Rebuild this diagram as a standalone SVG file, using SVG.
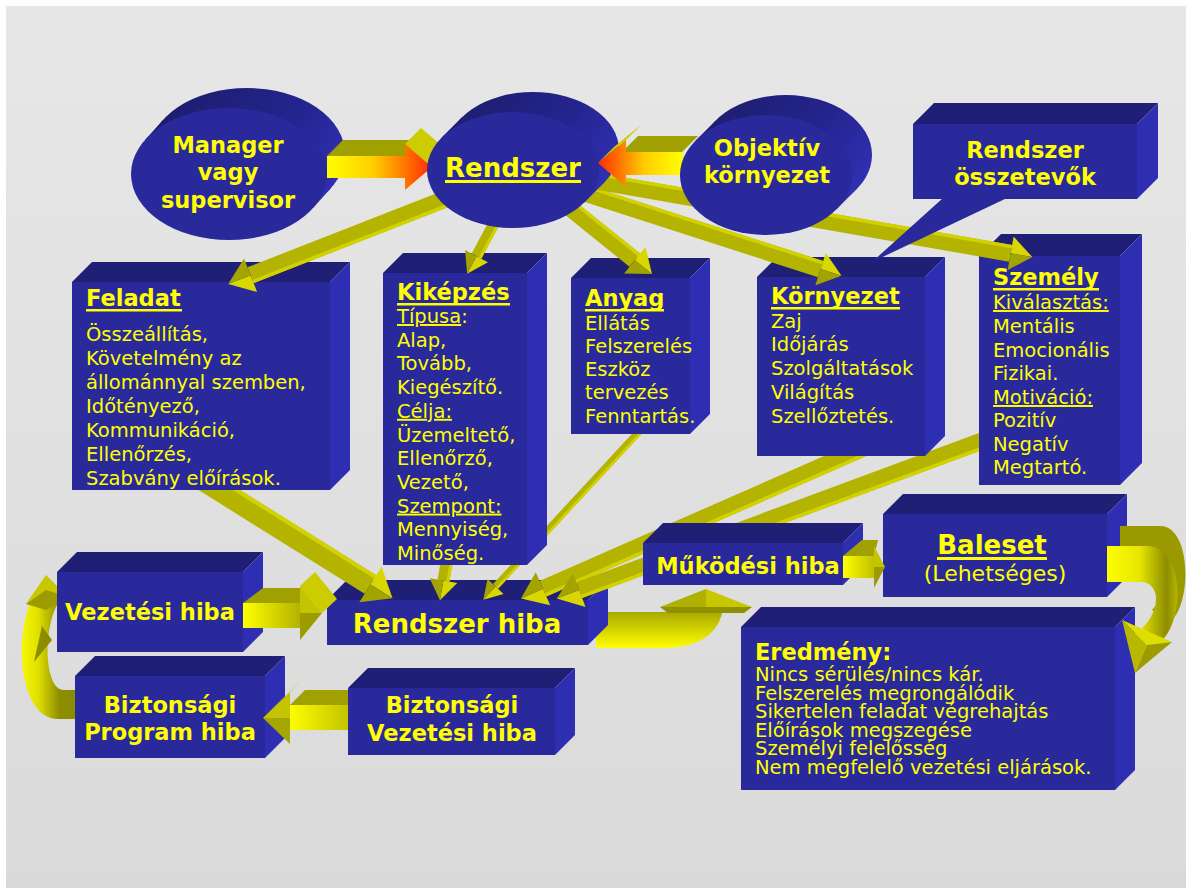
<svg xmlns="http://www.w3.org/2000/svg" width="1186" height="888" viewBox="0 0 1186 888">
  <defs>
    <style>
      .f{fill:#29299b}
      .t{fill:#1f1f75}
      .s{fill:#2e2eb2}
      .b{font-family:"DejaVu Sans",Verdana,sans-serif;font-weight:bold;font-size:22.5px;fill:#ffff00}
      .bc{font-family:"DejaVu Sans",Verdana,sans-serif;font-weight:bold;font-size:22.5px;fill:#ffff00;text-anchor:middle}
      .r{font-family:"DejaVu Sans",Verdana,sans-serif;font-size:19.5px;fill:#ffff00}
      .u{text-decoration:underline}
      .ul{fill:#ffff00}
      .sh{fill:#b3b300}
      .hl{fill:#d2d200}
      .h1{fill:#d8d800}
      .h2{fill:#a4a400}
      .olive{fill:#a0a000}
      .edge{fill:#cccc00}
    </style>
    <linearGradient id="bg" x1="0" y1="0" x2="0" y2="1">
      <stop offset="0" stop-color="#e7e7e7"/>
      <stop offset="1" stop-color="#dadada"/>
    </linearGradient>
    <linearGradient id="gMgr" gradientUnits="userSpaceOnUse" x1="327" y1="0" x2="432" y2="0">
      <stop offset="0" stop-color="#ffff00"/>
      <stop offset="0.45" stop-color="#ffcc00"/>
      <stop offset="1" stop-color="#ff2a00"/>
    </linearGradient>
    <linearGradient id="gObj" gradientUnits="userSpaceOnUse" x1="682" y1="0" x2="598" y2="0">
      <stop offset="0" stop-color="#ffff00"/>
      <stop offset="0.45" stop-color="#ffcc00"/>
      <stop offset="1" stop-color="#ff2a00"/>
    </linearGradient>
    <linearGradient id="gV1" gradientUnits="userSpaceOnUse" x1="243" y1="0" x2="302" y2="0">
      <stop offset="0" stop-color="#ffff00"/>
      <stop offset="1" stop-color="#b0b000"/>
    </linearGradient>
    <linearGradient id="gV2" gradientUnits="userSpaceOnUse" x1="288" y1="0" x2="348" y2="0">
      <stop offset="0" stop-color="#ffff00"/>
      <stop offset="1" stop-color="#c4c400"/>
    </linearGradient>
    <linearGradient id="gV3" gradientUnits="userSpaceOnUse" x1="843" y1="0" x2="876" y2="0">
      <stop offset="0" stop-color="#ffff00"/>
      <stop offset="1" stop-color="#bcbc00"/>
    </linearGradient>
    <linearGradient id="gC1" gradientUnits="userSpaceOnUse" x1="0" y1="600" x2="0" y2="648">
      <stop offset="0" stop-color="#8c8c00"/>
      <stop offset="1" stop-color="#ffff00"/>
    </linearGradient>
    <linearGradient id="gC2" gradientUnits="userSpaceOnUse" x1="16" y1="0" x2="60" y2="0">
      <stop offset="0" stop-color="#ffff00"/>
      <stop offset="0.5" stop-color="#e0e000"/>
      <stop offset="1" stop-color="#8c8c00"/>
    </linearGradient>
    <linearGradient id="gC3" gradientUnits="userSpaceOnUse" x1="1105" y1="0" x2="1182" y2="0">
      <stop offset="0" stop-color="#ffff00"/>
      <stop offset="0.45" stop-color="#e6e600"/>
      <stop offset="0.8" stop-color="#8c8c00"/>
      <stop offset="1" stop-color="#c8c800"/>
    </linearGradient>
    <linearGradient id="cylM" gradientUnits="userSpaceOnUse" x1="170" y1="95" x2="330" y2="215">
      <stop offset="0" stop-color="#1d1d6c"/>
      <stop offset="0.55" stop-color="#24248e"/>
      <stop offset="1" stop-color="#3131b8"/>
    </linearGradient>
    <linearGradient id="cylR" gradientUnits="userSpaceOnUse" x1="460" y1="95" x2="600" y2="205">
      <stop offset="0" stop-color="#1d1d6c"/>
      <stop offset="0.55" stop-color="#24248e"/>
      <stop offset="1" stop-color="#3131b8"/>
    </linearGradient>
    <linearGradient id="cylO" gradientUnits="userSpaceOnUse" x1="712" y1="100" x2="852" y2="212">
      <stop offset="0" stop-color="#1d1d6c"/>
      <stop offset="0.55" stop-color="#24248e"/>
      <stop offset="1" stop-color="#3131b8"/>
    </linearGradient>
  </defs>

  <!-- page -->
  <rect x="0" y="0" width="1186" height="888" fill="#ffffff"/>
  <rect x="6" y="6" width="1180" height="882" fill="url(#bg)"/>

  <!-- curved links that run beneath the lower boxes -->
  <g id="links-back">
    <!-- Rendszer hiba -> Működési hiba -->
    <path d="M 596,612 L 662,612 Q 690,612 690,600 L 724,600 Q 722,648 662,648 L 596,648 Z" fill="url(#gC1)"/>
    <polygon points="660,607 706,589 706,607" fill="#b0b000"/>
    <polygon points="706,589 752,607 706,607" fill="#c8c800"/>
    <polygon points="660,607 752,607 744,613 668,613" fill="#8f8f00"/>
    <!-- Biztonsági Program hiba -> Vezetési hiba -->
    <path d="M 80,719 L 58,719 C 14,719 12,612 42,585 L 60,600 C 42,626 44,690 64,690 L 80,690 Z" fill="url(#gC2)"/>
    <polygon points="26,604 46,575 68,597" fill="#c8c800"/>
    <polygon points="26,604 46,590 68,597 46,610" fill="#9c9c00"/>
    <polygon points="34,662 42,626 52,640" fill="#8c8c00"/>
  </g>

  <!-- lower boxes -->
  <g id="rendszer-hiba">
    <polygon class="t" points="327,600 347,580 608,580 588,600"/>
    <polygon class="s" points="588,600 608,580 608,625 588,645"/>
    <rect class="f" x="327" y="600" width="261" height="45"/>
    <text class="bc" x="457" y="633" style="font-size:26px">Rendszer hiba</text>
  </g>
  <g id="vezetesi-hiba">
    <polygon class="t" points="57,572 77,552 263,552 243,572"/>
    <polygon class="s" points="243,572 263,552 263,632 243,652"/>
    <rect class="f" x="57" y="572" width="186" height="80"/>
    <text class="bc" x="150" y="620">Vezetési hiba</text>
  </g>
  <g id="biztonsagi-program-hiba">
    <polygon class="t" points="75,676 95,656 285,656 265,676"/>
    <polygon class="s" points="265,676 285,656 285,738 265,758"/>
    <rect class="f" x="75" y="676" width="190" height="82"/>
    <text class="bc" x="170" y="713">Biztonsági</text>
    <text class="bc" x="170" y="740">Program hiba</text>
  </g>
  <g id="biztonsagi-vezetesi-hiba">
    <polygon class="t" points="348,688 368,668 575,668 555,688"/>
    <polygon class="s" points="555,688 575,668 575,735 555,755"/>
    <rect class="f" x="348" y="688" width="207" height="67"/>
    <text class="bc" x="452" y="713">Biztonsági</text>
    <text class="bc" x="452" y="741">Vezetési hiba</text>
  </g>
  <g id="eredmeny">
    <polygon class="t" points="741,627 761,607 1135,607 1115,627"/>
    <polygon class="s" points="1115,627 1135,607 1135,770 1115,790"/>
    <rect class="f" x="741" y="627" width="374" height="163"/>
    <text class="b" x="755" y="660">Eredmény:</text>
    <text class="r" x="755" y="681">Nincs sérülés/nincs kár.</text>
    <text class="r" x="755" y="699.5">Felszerelés megrongálódik</text>
    <text class="r" x="755" y="718">Sikertelen feladat végrehajtás</text>
    <text class="r" x="755" y="736.5">Előírások megszegése</text>
    <text class="r" x="755" y="755">Személyi felelősség</text>
    <text class="r" x="755" y="773.5">Nem megfelelő vezetési eljárások.</text>
  </g>

  <!-- links between the lower boxes and into Rendszer hiba -->
  <g id="links-lower">
    <!-- Vezetési hiba -> Rendszer hiba -->
    <polygon class="olive" points="243,603 263,588 300,588 300,603"/>
    <polygon class="edge" points="300,586 315,572 337,599 322,613"/>
    <rect x="243" y="603" width="59" height="25" fill="url(#gV1)"/>
    <polygon points="300,586 322,613 300,613" fill="#c4c400"/>
    <polygon points="300,613 322,613 300,640" fill="#9c9c00"/>
    <!-- Biztonsági Vezetési hiba -> Biztonsági Program hiba -->
    <polygon class="olive" points="290,705 305,690 348,690 348,705"/>
    <polygon class="edge" points="263,718 278,703 305,677 290,692"/>
    <rect x="288" y="705" width="60" height="25" fill="url(#gV2)"/>
    <polygon points="290,692 263,718 290,718" fill="#c4c400"/>
    <polygon points="290,718 263,718 290,744" fill="#a6a600"/>

    <!-- Feladat -> Rendszer hiba -->
    <g transform="translate(200,478) rotate(32)">
      <polygon class="sh" points="0,-11 201,-11 201,11 0,11"/>
      <polygon class="hl" points="0,-11 201,-11 201,-7 0,-7"/>
      <polygon class="h1" points="201,-21 227,0 201,0"/>
      <polygon class="h2" points="201,0 227,0 201,21"/>
    </g>
    <!-- Kiképzés -> Rendszer hiba -->
    <g transform="translate(448,555) rotate(100.1)">
      <polygon class="sh" points="0,-6 26,-6 26,6 0,6"/>
      <polygon class="hl" points="0,-6 26,-6 26,-3 0,-3"/>
      <polygon class="h1" points="26,-14 46,0 26,0"/>
      <polygon class="h2" points="26,0 46,0 26,14"/>
    </g>
    <!-- Anyag -> Rendszer hiba -->
    <g transform="translate(645,425) rotate(132.8)">
      <polygon class="sh" points="0,-3.5 220,-3.5 220,3.5 0,3.5"/>
      <polygon class="hl" points="0,-3.5 220,-3.5 220,-1 0,-1"/>
      <polygon class="h1" points="220,-11 238,0 220,0"/>
      <polygon class="h2" points="220,0 238,0 220,11"/>
    </g>
    <!-- Környezet -> Rendszer hiba -->
    <g transform="translate(868,446) rotate(156.29)">
      <polygon class="sh" points="0,-8.5 355,-8.5 355,8.5 0,8.5"/>
      <polygon class="hl" points="0,-8.5 355,-8.5 355,-5 0,-5"/>
      <polygon class="h1" points="355,-18 379,0 355,0"/>
      <polygon class="h2" points="355,0 379,0 355,18"/>
    </g>
    <!-- Személy -> Rendszer hiba -->
    <g transform="translate(990,438) rotate(159.68)">
      <polygon class="sh" points="0,-8.5 438,-8.5 438,8.5 0,8.5"/>
      <polygon class="hl" points="0,-8.5 438,-8.5 438,-5 0,-5"/>
      <polygon class="h1" points="438,-18 462,0 438,0"/>
      <polygon class="h2" points="438,0 462,0 438,18"/>
    </g>
  </g>

  <!-- component boxes -->
  <g id="feladat">
    <polygon class="t" points="72,282 92,262 350,262 330,282"/>
    <polygon class="s" points="330,282 350,262 350,470 330,490"/>
    <rect class="f" x="72" y="282" width="258" height="208"/>
    <text class="b" x="86" y="306">Feladat</text>
    <rect class="ul" x="86" y="309" width="96" height="2.5"/>
    <text class="r" x="86" y="341">Összeállítás,</text>
    <text class="r" x="86" y="365">Követelmény az</text>
    <text class="r" x="86" y="389">állománnyal szemben,</text>
    <text class="r" x="86" y="413">Időtényező,</text>
    <text class="r" x="86" y="437">Kommunikáció,</text>
    <text class="r" x="86" y="461">Ellenőrzés,</text>
    <text class="r" x="86" y="485">Szabvány előírások.</text>
  </g>
  <g id="kikepzes">
    <polygon class="t" points="383,273 403,253 547,253 527,273"/>
    <polygon class="s" points="527,273 547,253 547,545 527,565"/>
    <rect class="f" x="383" y="273" width="144" height="292"/>
    <text class="b" x="397" y="300">Kiképzés</text>
    <rect class="ul" x="397" y="303" width="113" height="2.5"/>
    <text class="r" x="397" y="323"><tspan class="u">Típusa</tspan>:</text>
    <text class="r" x="397" y="346.7">Alap,</text>
    <text class="r" x="397" y="370.4">Tovább,</text>
    <text class="r" x="397" y="394.1">Kiegészítő.</text>
    <text class="r u" x="397" y="417.8">Célja:</text>
    <text class="r" x="397" y="441.5">Üzemeltető,</text>
    <text class="r" x="397" y="465.2">Ellenőrző,</text>
    <text class="r" x="397" y="488.9">Vezető,</text>
    <text class="r u" x="397" y="512.6">Szempont:</text>
    <text class="r" x="397" y="536.3">Mennyiség,</text>
    <text class="r" x="397" y="560">Minőség.</text>
  </g>
  <g id="anyag">
    <polygon class="t" points="571,278 591,258 710,258 690,278"/>
    <polygon class="s" points="690,278 710,258 710,414 690,434"/>
    <rect class="f" x="571" y="278" width="119" height="156"/>
    <text class="b" x="585" y="306">Anyag</text>
    <rect class="ul" x="585" y="309" width="79" height="2.5"/>
    <text class="r" x="585" y="330">Ellátás</text>
    <text class="r" x="585" y="353">Felszerelés</text>
    <text class="r" x="585" y="376">Eszköz</text>
    <text class="r" x="585" y="399">tervezés</text>
    <text class="r" x="585" y="423">Fenntartás.</text>
  </g>
  <g id="kornyezet">
    <polygon class="t" points="757,277 777,257 945,257 925,277"/>
    <polygon class="s" points="925,277 945,257 945,436 925,456"/>
    <rect class="f" x="757" y="277" width="168" height="179"/>
    <text class="b" x="771" y="304">Környezet</text>
    <rect class="ul" x="771" y="307" width="129" height="2.5"/>
    <text class="r" x="771" y="328">Zaj</text>
    <text class="r" x="771" y="351">Időjárás</text>
    <text class="r" x="771" y="375">Szolgáltatások</text>
    <text class="r" x="771" y="399">Világítás</text>
    <text class="r" x="771" y="423">Szellőztetés.</text>
  </g>
  <g id="szemely">
    <polygon class="t" points="979,256 1001,234 1142,234 1120,256"/>
    <polygon class="s" points="1120,256 1142,234 1142,463 1120,485"/>
    <rect class="f" x="979" y="256" width="141" height="229"/>
    <text class="b" x="993" y="285">Személy</text>
    <rect class="ul" x="993" y="288" width="106" height="2.5"/>
    <text class="r u" x="993" y="309">Kiválasztás:</text>
    <text class="r" x="993" y="333">Mentális</text>
    <text class="r" x="993" y="357">Emocionális</text>
    <text class="r" x="993" y="380">Fizikai.</text>
    <text class="r u" x="993" y="404">Motiváció:</text>
    <text class="r" x="993" y="427">Pozitív</text>
    <text class="r" x="993" y="451">Negatív</text>
    <text class="r" x="993" y="474">Megtartó.</text>
  </g>
  <g id="mukodesi-hiba">
    <polygon class="t" points="643,543 663,523 863,523 843,543"/>
    <polygon class="s" points="843,543 863,523 863,565 843,585"/>
    <rect class="f" x="643" y="543" width="200" height="42"/>
    <text class="bc" x="748" y="574">Működési hiba</text>
  </g>
  <g id="baleset">
    <polygon class="t" points="883,514 903,494 1127,494 1107,514"/>
    <polygon class="s" points="1107,514 1127,494 1127,577 1107,597"/>
    <rect class="f" x="883" y="514" width="224" height="83"/>
    <text class="bc" x="992" y="554" style="font-size:26px">Baleset</text>
    <rect class="ul" x="937" y="557" width="110" height="3"/>
    <text class="r" x="995" y="581" style="text-anchor:middle;font-size:22px">(Lehetséges)</text>
  </g>

  <!-- links out of Rendszer and along the accident chain -->
  <g id="links-upper">
    <!-- Működési hiba -> Baleset -->
    <polygon class="olive" points="843,556 862,540 878,540 874,556"/>
    <rect x="843" y="556" width="32" height="22" fill="url(#gV3)"/>
    <polygon points="874,546 885,567 874,567" fill="#c4c400"/>
    <polygon points="874,567 885,567 874,588" fill="#9c9c00"/>
    <!-- Baleset -> Eredmény -->
    <path d="M 1120,526 L 1160,526 C 1192,526 1192,605 1170,622 L 1152,610 C 1170,592 1170,562 1150,562 L 1120,562 Z" fill="#9a9a00"/>
    <path d="M 1107,546 L 1148,546 C 1184,546 1186,622 1160,642 L 1142,628 C 1160,612 1162,582 1140,582 L 1107,582 Z" fill="url(#gC3)"/>
    <polygon points="1122,620 1172,642 1147,645" fill="#dede00"/>
    <polygon points="1122,620 1147,645 1135,673" fill="#b8b800"/>
    <polygon points="1147,645 1172,642 1135,673" fill="#9c9c00"/>

    <!-- Rendszer -> Feladat -->
    <g transform="translate(448,198) rotate(158.65)">
      <polygon class="sh" points="0,-8.5 212,-8.5 212,8.5 0,8.5"/>
      <polygon class="hl" points="0,-8.5 212,-8.5 212,-5 0,-5"/>
      <polygon class="h1" points="212,-18 236,0 212,0"/>
      <polygon class="h2" points="212,0 236,0 212,18"/>
    </g>
    <!-- Rendszer -> Kiképzés -->
    <g transform="translate(500,212) rotate(118)">
      <polygon class="sh" points="0,-5.5 50,-5.5 50,5.5 0,5.5"/>
      <polygon class="hl" points="0,-5.5 50,-5.5 50,-2.5 0,-2.5"/>
      <polygon class="h1" points="50,-13 70,0 50,0"/>
      <polygon class="h2" points="50,0 70,0 50,13"/>
    </g>
    <!-- Rendszer -> Anyag -->
    <g transform="translate(560,200) rotate(38.8)">
      <polygon class="sh" points="0,-8.5 96,-8.5 96,8.5 0,8.5"/>
      <polygon class="hl" points="0,-8.5 96,-8.5 96,-5 0,-5"/>
      <polygon class="h1" points="96,-17 118,0 96,0"/>
      <polygon class="h2" points="96,0 118,0 96,17"/>
    </g>
    <!-- Rendszer -> Környezet -->
    <g transform="translate(575,190) rotate(17.85)">
      <polygon class="sh" points="0,-8.5 258,-8.5 258,8.5 0,8.5"/>
      <polygon class="hl" points="0,-8.5 258,-8.5 258,-5 0,-5"/>
      <polygon class="h1" points="258,-17 280,0 258,0"/>
      <polygon class="h2" points="258,0 280,0 258,17"/>
    </g>
    <!-- Rendszer -> Személy -->
    <g transform="translate(590,180) rotate(9.88)">
      <polygon class="sh" points="0,-8.5 427,-8.5 427,8.5 0,8.5"/>
      <polygon class="hl" points="0,-8.5 427,-8.5 427,-5 0,-5"/>
      <polygon class="h1" points="427,-17 449,0 427,0"/>
      <polygon class="h2" points="427,0 449,0 427,17"/>
    </g>
  </g>

  <!-- callout naming the components -->
  <g id="rendszer-osszetevok">
    <polygon class="t" points="913,124 934,103 1158,103 1137,124"/>
    <polygon class="s" points="1137,124 1158,103 1158,178 1137,199"/>
    <rect class="f" x="913" y="124" width="224" height="75"/>
    <polygon class="f" points="943,198 1007,198 872,262"/>
    <text class="bc" x="1025" y="158">Rendszer</text>
    <text class="bc" x="1025" y="185">összetevők</text>
  </g>

  <!-- Manager -->
  <g id="manager">
    <ellipse cx="247" cy="154" rx="98" ry="66" fill="url(#cylM)"/>
    <polygon points="312.8,208.2 330.8,188.2 163.2,119.8 145.2,139.8" fill="url(#cylM)"/>
    <ellipse class="f" cx="229" cy="174" rx="98" ry="66"/>
    <text class="bc" x="228" y="153">Manager</text>
    <text class="bc" x="228" y="180">vagy</text>
    <text class="bc" x="228" y="208">supervisor</text>
  </g>

  <g id="link-manager">
    <polygon class="olive" points="327,156 343,140 421,140 405,156"/>
    <polygon class="edge" points="405,144 421,128 448,151 432,167"/>
    <rect x="327" y="156" width="79" height="22" fill="url(#gMgr)"/>
    <polygon points="405,144 432,167 405,190" fill="url(#gMgr)"/>
  </g>

  <!-- Rendszer -->
  <g id="rendszer">
    <ellipse cx="533" cy="150" rx="86" ry="58" fill="url(#cylR)"/>
    <polygon points="584.3,202.4 604.3,182.4 461.7,117.6 441.7,137.6" fill="url(#cylR)"/>
    <ellipse class="f" cx="513" cy="170" rx="86" ry="58"/>
    <text class="bc" x="513" y="177" style="font-size:26px">Rendszer</text>
    <rect class="ul" x="445" y="180" width="136" height="3"/>
  </g>

  <g id="link-objektiv">
    <polygon class="olive" points="622,152 638,136 698,136 682,152"/>
    <polygon class="edge" points="598,163 614,147 642,124 626,140"/>
    <rect x="625" y="152" width="58" height="23" fill="url(#gObj)"/>
    <polygon points="626,140 598,163 626,187" fill="url(#gObj)"/>
  </g>

  <!-- Objektív környezet -->
  <g id="objektiv">
    <ellipse cx="786" cy="155" rx="86" ry="60" fill="url(#cylO)"/>
    <polygon points="836.5,209.3 856.5,189.3 715.5,120.7 695.5,140.7" fill="url(#cylO)"/>
    <ellipse class="f" cx="766" cy="175" rx="86" ry="60"/>
    <text class="bc" x="767" y="156">Objektív</text>
    <text class="bc" x="767" y="183">környezet</text>
  </g>
</svg>
